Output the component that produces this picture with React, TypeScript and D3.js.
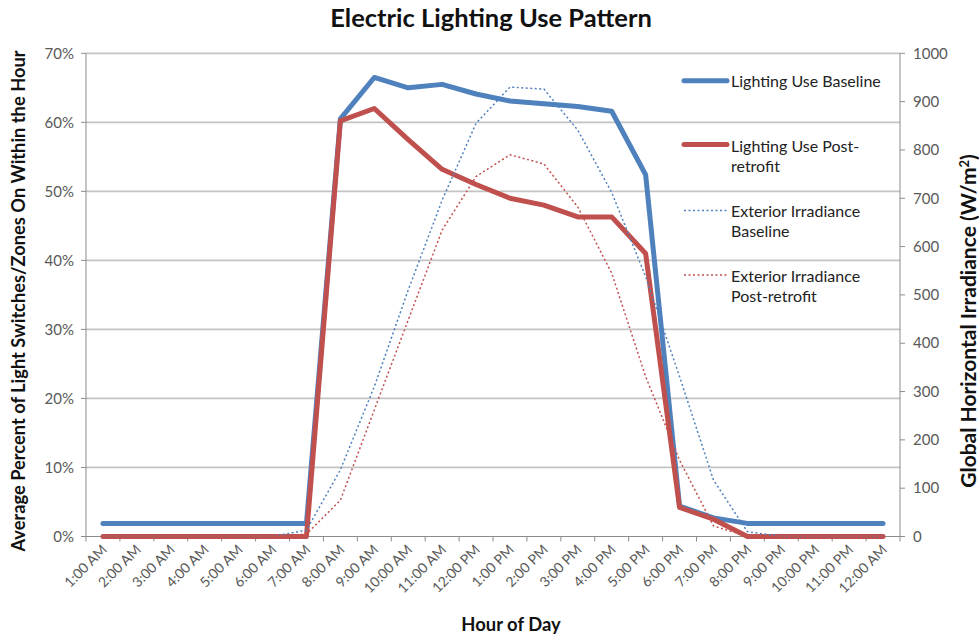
import React from "react";
import * as d3 from "d3";

const hours = [
  "1:00 AM", "2:00 AM", "3:00 AM", "4:00 AM", "5:00 AM", "6:00 AM", "7:00 AM", "8:00 AM",
  "9:00 AM", "10:00 AM", "11:00 AM", "12:00 PM", "1:00 PM", "2:00 PM", "3:00 PM", "4:00 PM",
  "5:00 PM", "6:00 PM", "7:00 PM", "8:00 PM", "9:00 PM", "10:00 PM", "11:00 PM", "12:00 AM",
];

// Percent of switches/zones on (left axis)
const lightingBaseline = [
  1.9, 1.9, 1.9, 1.9, 1.9, 1.9, 1.9, 60.5, 66.5, 65.0, 65.5, 64.1,
  63.1, 62.7, 62.3, 61.6, 52.4, 4.4, 2.7, 1.9, 1.9, 1.9, 1.9, 1.9,
];
const lightingPost = [
  0, 0, 0, 0, 0, 0, 0, 60.2, 62.0, 57.5, 53.2, 51.0,
  49.0, 48.0, 46.3, 46.3, 41.0, 4.2, 2.5, 0, 0, 0, 0, 0,
];
// Global horizontal irradiance W/m2 (right axis)
const irrBaseline = [
  0, 0, 0, 0, 0, 0, 13, 138, 310, 510, 696, 855,
  930, 926, 841, 712, 538, 331, 117, 10, 0, 0, 0, 0,
];
const irrPost = [
  0, 0, 0, 0, 0, 0, 5, 75, 262, 448, 634, 745,
  790, 771, 682, 545, 331, 158, 22, 0, 0, 0, 0, 0,
];

const leftTicks = [0, 10, 20, 30, 40, 50, 60, 70];
const rightTicks = [0, 100, 200, 300, 400, 500, 600, 700, 800, 900, 1000];

const title = "Electric Lighting Use Pattern";
const leftTitle = "Average Percent of Light Switches/Zones On Within the  Hour";
const xTitle = "Hour of Day";

const BLUE = "#4f81bd";
const RED = "#c0504d";
const FONT = "Lato, 'Open Sans', sans-serif";

export default function App() {
  const W = 979, H = 638;
  const x0 = 86, x1 = 900, yTop = 53.3, yBot = 536.5;
  const x = d3.scaleBand<string>().domain(hours).range([x0, x1]).padding(0);
  const yL = d3.scaleLinear().domain([0, 70]).range([yBot, yTop]);
  const yR = d3.scaleLinear().domain([0, 1000]).range([yBot, yTop]);
  const cx = (i: number) => (x(hours[i]) as number) + x.bandwidth() / 2;

  const lineL = d3.line<number>().x((_, i) => cx(i)).y((d) => yL(d));
  const lineR = d3.line<number>().x((_, i) => cx(i)).y((d) => yR(d));

  const boundaries = d3.range(hours.length + 1).map((i) => x0 + i * x.bandwidth());

  const legend = [
    { y: 80.7, color: BLUE, dotted: false, lines: ["Lighting Use Baseline"], base: 86.5 },
    { y: 144.5, color: RED, dotted: false, lines: ["Lighting Use Post-", "retrofit"], base: 151.5 },
    { y: 210.5, color: BLUE, dotted: true, lines: ["Exterior Irradiance", "Baseline"], base: 216.5 },
    { y: 275, color: RED, dotted: true, lines: ["Exterior Irradiance", "Post-retrofit"], base: 281.5 },
  ];

  return (
    <svg width={W} height={H} style={{ position: "absolute", left: 0, top: 0, background: "#fff" }} fontFamily={FONT}>
      <rect width={W} height={H} fill="#fff" />
      {/* gridlines */}
      {leftTicks.filter((t) => t > 0).map((t) => (
        <line key={t} x1={x0} x2={x1} y1={yL(t)} y2={yL(t)} stroke="#c4c4c4" strokeWidth={1.75} />
      ))}
      {/* axes */}
      <line x1={x0} x2={x0} y1={yTop} y2={yBot} stroke="#8c8c8c" strokeWidth={1} />
      <line x1={x1} x2={x1} y1={yTop} y2={yBot} stroke="#8c8c8c" strokeWidth={1} />
      <line x1={x0} x2={x1} y1={yBot} y2={yBot} stroke="#8c8c8c" strokeWidth={1} />
      {leftTicks.map((t) => (
        <g key={t}>
          <line x1={x0 - 5} x2={x0} y1={yL(t)} y2={yL(t)} stroke="#8c8c8c" />
          <text x={74} y={yL(t)} dy="0.35em" textAnchor="end" fontSize={15} fill="#595959">{t}%</text>
        </g>
      ))}
      {rightTicks.map((t) => (
        <g key={t}>
          <line x1={x1} x2={x1 + 5} y1={yR(t)} y2={yR(t)} stroke="#8c8c8c" />
          <text x={913} y={yR(t)} dy="0.35em" textAnchor="start" fontSize={15} fill="#595959">{t}</text>
        </g>
      ))}
      {boundaries.map((b, i) => (
        <line key={i} x1={b} x2={b} y1={yBot} y2={yBot + 5} stroke="#8c8c8c" />
      ))}
      {hours.map((h, i) => (
        <text key={h} transform={`translate(${cx(i) + 5},${yBot + 14}) rotate(-45)`} textAnchor="end" fontSize={14} fill="#595959">{h}</text>
      ))}
      {/* series */}
      <path d={lineL(lightingBaseline) || ""} fill="none" stroke={BLUE} strokeWidth={5} strokeLinejoin="round" strokeLinecap="round" />
      <path d={lineL(lightingPost) || ""} fill="none" stroke={RED} strokeWidth={5} strokeLinejoin="round" strokeLinecap="round" />
      <path d={lineR(irrBaseline) || ""} fill="none" stroke={BLUE} strokeWidth={1.5} strokeDasharray="2,2.5" />
      <path d={lineR(irrPost) || ""} fill="none" stroke={RED} strokeWidth={1.5} strokeDasharray="2,2.5" />
      {/* legend */}
      {legend.map((l, i) => (
        <g key={i}>
          <line x1={684} x2={727} y1={l.y} y2={l.y} stroke={l.color}
            strokeWidth={l.dotted ? 1.5 : 5} strokeLinecap={l.dotted ? "butt" : "round"}
            strokeDasharray={l.dotted ? "2,2.5" : undefined} />
          {l.lines.map((t, j) => (
            <text key={j} x={731} y={l.base + j * 20.5} fontSize={16} fill="#222">{t}</text>
          ))}
        </g>
      ))}
      {/* titles */}
      <text x={491} y={27} textAnchor="middle" fontSize={25.5} fontWeight="bold" fill="#111">{title}</text>
      <text x={511} y={631} textAnchor="middle" fontSize={18.4} fontWeight="bold" fill="#111">{xTitle}</text>
      <text transform={`translate(25,301) rotate(-90)`} textAnchor="middle" fontSize={18.3} fontWeight="bold" fill="#111">{leftTitle}</text>
      <text transform={`translate(976,321) rotate(-90)`} textAnchor="middle" fontSize={21} fontWeight="bold" fill="#111">
        Global Horizontal Irradiance (W/m<tspan dy="-7" fontSize={13}>2</tspan><tspan dy="7">)</tspan>
      </text>
    </svg>
  );
}
